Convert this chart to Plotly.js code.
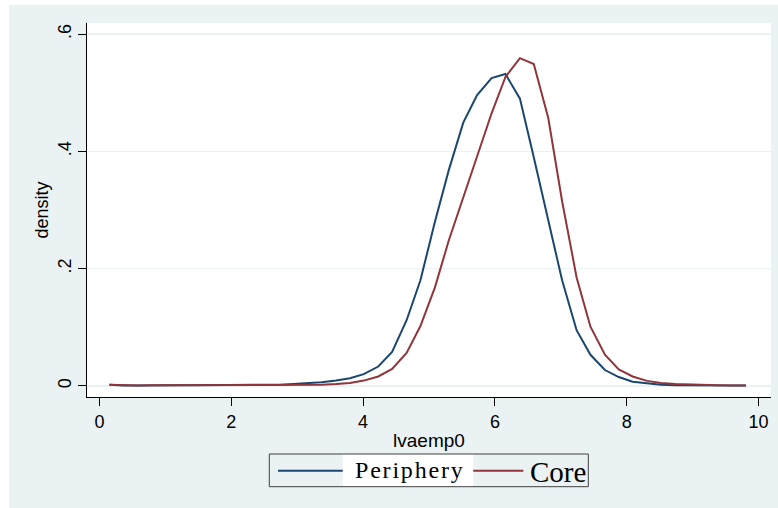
<!DOCTYPE html>
<html>
<head>
<meta charset="utf-8">
<script src="https://cdn.plot.ly/plotly-3.0.1.min.js"></script>
<style>html,body{margin:0;padding:0;background:#fff}#chart{width:778px;height:508px}</style>
</head>
<body>
<div id="chart"></div>
<script>
// grid of evaluation points (lvaemp0)
var xGrid = [0.15,0.36,0.58,0.79,1.01,1.22,1.44,1.65,1.87,2.08,2.30,2.51,2.73,2.94,3.16,3.37,3.59,3.80,4.01,4.23,4.44,4.66,4.87,5.09,5.30,5.52,5.73,5.95,6.16,6.38,6.59,6.81,7.02,7.24,7.45,7.67,7.88,8.09,8.31,8.52,8.74,8.95,9.17,9.38,9.60,9.81];
// density, Periphery
var periphery = [0.002,0.0005,0.0005,0.001,0.001,0.001,0.001,0.001,0.001,0.001,0.0015,0.002,0.002,0.003,0.004,0.006,0.009,0.013,0.020,0.033,0.058,0.112,0.180,0.280,0.368,0.449,0.496,0.525,0.532,0.490,0.390,0.283,0.180,0.095,0.053,0.027,0.015,0.007,0.004,0.002,0.001,0.001,0.0005,0.0005,0.0005,0.0005];
// density, Core
var core = [0.002,0.001,0.0005,0.001,0.001,0.001,0.001,0.001,0.001,0.001,0.001,0.001,0.001,0.0015,0.002,0.002,0.003,0.005,0.009,0.016,0.029,0.056,0.102,0.168,0.248,0.322,0.392,0.465,0.527,0.559,0.549,0.457,0.315,0.185,0.101,0.053,0.028,0.016,0.0085,0.005,0.003,0.002,0.001,0.001,0.0005,0.0005];
var seriesNames = ['Periphery', 'Core'];
var xTickVals = [0,2,4,6,8,10];
var yTickVals = [0,0.2,0.4,0.6];
var yTickText = ['0','.2','.4','.6'];

var BLUE = '#1a476f', RED = '#90353b', BG = '#eaf2f3';
var W = 778, H = 508, L = 87, R = 7, T = 23, B = 111;
var pw = W - L - R, ph = H - T - B;
function PX(px){ return (px - L) / pw; }
function PY(py){ return (H - B - py) / ph; }

var traces = [
  {x: xGrid, y: periphery, name: seriesNames[0], type: 'scatter', mode: 'lines',
   line: {color: BLUE, width: 2}, showlegend: false},
  {x: xGrid, y: core, name: seriesNames[1], type: 'scatter', mode: 'lines',
   line: {color: RED, width: 2}, showlegend: false}
];

var shapes = [
  // white strips outside the Stata graph region
  {type:'rect', xref:'paper', yref:'paper', x0:PX(0), x1:PX(W), y0:PY(0), y1:PY(5), fillcolor:'#ffffff', line:{width:0}, layer:'below'},
  {type:'rect', xref:'paper', yref:'paper', x0:PX(0), x1:PX(9), y0:PY(0), y1:PY(H), fillcolor:'#ffffff', line:{width:0}, layer:'below'},
  // legend box
  {type:'rect', xref:'paper', yref:'paper', x0:PX(342.7), x1:PX(473.3), y0:PY(454), y1:PY(486.7), fillcolor:'#ffffff', line:{width:0}},
  {type:'rect', xref:'paper', yref:'paper', x0:PX(269.3), x1:PX(588.3), y0:PY(454), y1:PY(486.7), fillcolor:'rgba(0,0,0,0)', line:{width:1, color:'#404040'}},
  {type:'line', xref:'paper', yref:'paper', x0:PX(278), x1:PX(342.7), y0:PY(470.7), y1:PY(470.7), line:{width:2, color:BLUE}},
  {type:'line', xref:'paper', yref:'paper', x0:PX(473.3), x1:PX(523.3), y0:PY(470.7), y1:PY(470.7), line:{width:2, color:RED}}
];

var annotations = [
  {xref:'paper', yref:'paper', x:PX(353), y:PY(470), xanchor:'left', yanchor:'middle', showarrow:false,
   text:'<span style="letter-spacing:1.8px">' + seriesNames[0] + '</span>', font:{family:'Liberation Serif', size:24, color:'#000'}},
  {xref:'paper', yref:'paper', x:PX(528), y:PY(472), xanchor:'left', yanchor:'middle', showarrow:false,
   text:seriesNames[1], font:{family:'Liberation Serif', size:29, color:'#000'}}
];

var layout = {
  width: W, height: H,
  margin: {l: L, r: R, t: T, b: B, pad: 0},
  paper_bgcolor: BG, plot_bgcolor: '#ffffff',
  font: {family: 'Liberation Sans, Arial, sans-serif', color: '#000'},
  showlegend: false,
  xaxis: {
    range: [-0.19, 10.19], tickvals: xTickVals, ticks: 'outside', ticklen: 8, tickwidth: 1, tickcolor: '#000',
    showline: true, linecolor: '#000', linewidth: 1, showgrid: false, zeroline: false,
    tickfont: {size: 18, family: 'Liberation Sans, Arial, sans-serif'},
    title: {text: 'lvaemp0', font: {size: 19, family: 'Liberation Sans, Arial, sans-serif'}, standoff: 3}
  },
  yaxis: {
    range: [-0.019, 0.619], tickvals: yTickVals, ticktext: yTickText, ticks: 'outside', ticklen: 8, tickwidth: 1, tickcolor: '#000',
    tickangle: -90, showline: true, linecolor: '#000', linewidth: 1,
    showgrid: true, gridcolor: BG, gridwidth: 1.5, zeroline: false,
    tickfont: {size: 18, family: 'Liberation Sans, Arial, sans-serif'},
    title: {text: 'density', font: {size: 18, family: 'Liberation Sans, Arial, sans-serif'}, standoff: 1}
  },
  shapes: shapes,
  annotations: annotations
};

Plotly.newPlot('chart', traces, layout, {staticPlot: true, displayModeBar: false});
</script>
</body>
</html>
